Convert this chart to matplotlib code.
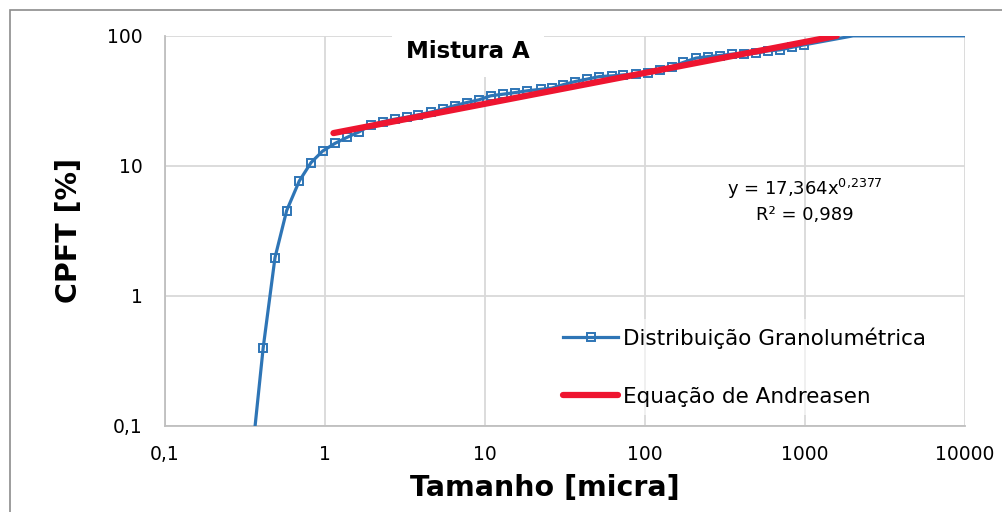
import matplotlib
matplotlib.use("Agg")
import matplotlib.pyplot as plt
from matplotlib.patches import Rectangle

# particle size distribution (micra, CPFT %)
tamanho = [0.345, 0.411, 0.487, 0.576, 0.690, 0.818, 0.967, 1.155, 1.378, 1.638,
           1.93, 2.30, 2.74, 3.25, 3.83, 4.58, 5.44, 6.49, 7.69, 9.17,
           10.86, 13.0, 15.4, 18.4, 22.3, 26.1, 30.6, 36.5, 43.2, 51.8,
           61.9, 73.2, 87.9, 105, 124, 147, 174, 208, 249, 294,
           348, 416, 494, 590, 698, 830, 986, 2000, 10000]
cpft = [0.05, 0.40, 1.97, 4.53, 7.63, 10.6, 13.0, 14.9, 16.6, 18.3,
        20.6, 21.9, 22.9, 23.7, 24.7, 25.9, 27.3, 29.1, 30.7, 32.2,
        34.6, 35.6, 36.6, 37.8, 38.8, 39.6, 42.0, 44.5, 46.4, 48.6,
        49.2, 50.1, 50.8, 51.6, 54.8, 58.0, 62.5, 67.4, 69.3, 70.6,
        72.3, 73.1, 73.6, 76.7, 78.0, 81.6, 85.2, 100, 100]
# only measured points carry markers
marcados = list(range(1, 47))

# Andreasen fit y = A x^q, drawn between these sizes
A, q = 17.364, 0.2377
x_andreasen = [1.13, 1580]
y_andreasen = [A * x ** q for x in x_andreasen]

xticks = [0.1, 1, 10, 100, 1000, 10000]
xlabels = ["0,1", "1", "10", "100", "1000", "10000"]
yticks = [0.1, 1, 10, 100]
ylabels = ["0,1", "1", "10", "100"]

azul = "#2E75B6"
vermelho = "#EE1530"
grade = "#D9D9D9"

fig = plt.figure(figsize=(10.03, 5.12), dpi=100)
ax = fig.add_axes([0.1645, 0.168, 0.7975, 0.762])

ax.plot(tamanho, cpft, color=azul, lw=2.3, marker="s", markersize=6,
        mfc="none", mec=azul, mew=1.4, markevery=marcados,
        label="Distribuição Granolumétrica", zorder=3)
ax.plot(x_andreasen, y_andreasen, color=vermelho, lw=4.5, solid_capstyle="round",
        label="Equação de Andreasen", zorder=4)

ax.set_xscale("log")
ax.set_yscale("log")
ax.set_xlim(0.1, 10000)
ax.set_ylim(0.1, 100)
ax.set_xticks(xticks)
ax.set_xticklabels(xlabels, fontsize=13.5)
ax.set_yticks(yticks)
ax.set_yticklabels(ylabels, fontsize=13.5)
ax.minorticks_off()
ax.tick_params(length=0, pad=16)
ax.tick_params(axis="x", pad=14)
ax.grid(True, color=grade, lw=1.3)
ax.set_axisbelow(True)
for s in ["top", "right"]:
    ax.spines[s].set_visible(False)
for s in ["left", "bottom"]:
    ax.spines[s].set_color("#BFBFBF")
    ax.spines[s].set_linewidth(1.3)

ax.set_xlabel("Tamanho [micra]", fontsize=20.5, fontweight="bold")
ax.xaxis.set_label_coords(0.475, -0.122)
ax.set_ylabel("CPFT [%]", fontsize=20.5, fontweight="bold")
ax.yaxis.set_label_coords(-0.1025, 0.5)

ax.text(0.379, 0.96, "Mistura A", transform=ax.transAxes, ha="center", va="center",
        fontsize=16.5, fontweight="bold",
        bbox=dict(fc="white", ec="none", pad=10))

ax.text(0.80, 0.608, "y = 17,364x$^{0{,}2377}$", transform=ax.transAxes,
        ha="center", va="center", fontsize=13)
ax.text(0.80, 0.54, "R² = 0,989", transform=ax.transAxes,
        ha="center", va="center", fontsize=13)

handles, labels = ax.get_legend_handles_labels()
leg = ax.legend(handles, labels, loc="lower right",
                bbox_to_anchor=(0.976, 0.0), frameon=True, fontsize=15.5,
                handlelength=2.55, handletextpad=0.23, labelspacing=1.75,
                borderpad=0.4)
leg.get_frame().set_facecolor("white")
leg.get_frame().set_alpha(0.6)
leg.get_frame().set_edgecolor("none")

fig.add_artist(Rectangle((10 / 1003, -0.1), 1.2, 1.1 - 10 / 512,
                         transform=fig.transFigure, fill=False,
                         ec="#8C8C8C", lw=1.2))

fig.savefig("out.png", dpi=100)
